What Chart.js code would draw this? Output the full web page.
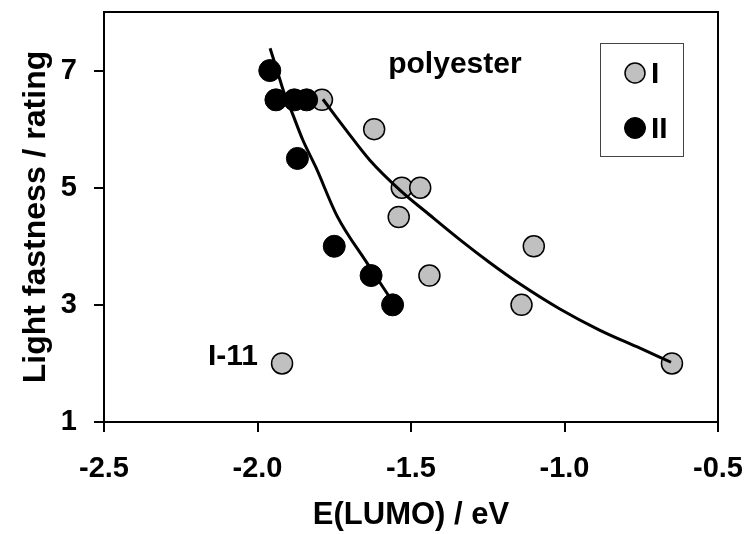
<!DOCTYPE html>
<html>
<head>
<meta charset="utf-8">
<script src="https://cdn.jsdelivr.net/npm/chart.js@4.4.0/dist/chart.umd.min.js"></script>
<style>
  html, body { margin: 0; padding: 0; background: #fff; }
  canvas { display: block; }
</style>
</head>
<body>
<canvas id="lf_chart" width="747" height="534"></canvas>
<script>
// series I (grey dots)
const x_I = [-1.79, -1.62, -1.53, -1.47, -1.54, -1.10, -1.44, -1.14, -0.65, -1.92];
const y_I = [6.5, 6.0, 5.0, 5.0, 4.5, 4.0, 3.5, 3.0, 2.0, 2.0];

// series II (black dots)
const x_II = [-1.96, -1.94, -1.88, -1.84, -1.87, -1.75, -1.63, -1.56];
const y_II = [7.0, 6.5, 6.5, 6.5, 5.5, 4.0, 3.5, 3.0];

// fitted curves
const fit_I_x = [-1.787, -1.715, -1.634, -1.536, -1.438, -1.340, -1.243, -1.146, -1.015, -0.886, -0.754, -0.653];
const fit_I_y = [6.51, 6.01, 5.47, 4.96, 4.53, 4.11, 3.72, 3.36, 2.93, 2.57, 2.26, 2.02];
const fit_II_x = [-1.959, -1.936, -1.914, -1.888, -1.852, -1.810, -1.741, -1.644, -1.563];
const fit_II_y = [7.38, 7.00, 6.63, 6.29, 5.81, 5.35, 4.52, 3.72, 3.08];

// axis ticks
const x_ticks = [-2.5, -2.0, -1.5, -1.0, -0.5];
const y_ticks = [1, 3, 5, 7];

// text labels in the plot
const note_texts = ["polyester", "I-11"];
const note_x = [-1.357, -2.08];
const note_y = [6.96, 1.98];

const legend_names = ["I", "II"];

const FONT = "'Liberation Sans', Arial, sans-serif";
const GREY = "#c0c0c0";

function toPoints(xs, ys) {
    return xs.map((x, i) => ({ x: x, y: ys[i] }));
}

// box round the plot + the notes + the legend
const framePlugin = {
    id: "frame",
    afterDraw(chart) {
        const ctx = chart.ctx;
        const a = chart.chartArea;
        const sx = chart.scales.x, sy = chart.scales.y;
        ctx.save();
        ctx.strokeStyle = "#000";
        ctx.lineWidth = 2;
        ctx.beginPath();
        ctx.moveTo(a.left, a.top);
        ctx.lineTo(a.right, a.top);
        ctx.lineTo(a.right, a.bottom);
        ctx.stroke();

        ctx.fillStyle = "#000";
        ctx.font = "bold 30px " + FONT;
        ctx.textAlign = "center";
        ctx.textBaseline = "alphabetic";
        note_texts.forEach((t, i) => {
            ctx.fillText(t, sx.getPixelForValue(note_x[i]), sy.getPixelForValue(note_y[i]));
        });

        // legend
        const bx = a.right - 118, by = a.top + 31, bw = 83, bh = 113;
        ctx.lineWidth = 1;
        ctx.strokeStyle = "#444";
        ctx.strokeRect(bx + 0.5, by + 0.5, bw, bh);
        const styles = [[GREY, 1.5, 10], ["#000", 1, 10.5]];
        ctx.textAlign = "left";
        ctx.textBaseline = "middle";
        legend_names.forEach((name, i) => {
            const cy = by + 30 + i * 55;
            ctx.beginPath();
            ctx.arc(bx + 35, cy, styles[i][2], 0, Math.PI * 2);
            ctx.fillStyle = styles[i][0];
            ctx.fill();
            ctx.lineWidth = styles[i][1];
            ctx.strokeStyle = "#000";
            ctx.stroke();
            ctx.fillStyle = "#000";
            ctx.fillText(name, bx + 51, cy + 2);
        });
        ctx.restore();
    }
};

new Chart("lf_chart", {
    type: "scatter",
    data: {
        datasets: [
            {   // fit I
                data: toPoints(fit_I_x, fit_I_y),
                showLine: true,
                borderColor: "#000",
                borderWidth: 3,
                pointRadius: 0,
                cubicInterpolationMode: "monotone",
                order: 0
            },
            {   // fit II
                data: toPoints(fit_II_x, fit_II_y),
                showLine: true,
                borderColor: "#000",
                borderWidth: 3,
                pointRadius: 0,
                cubicInterpolationMode: "monotone",
                order: 0
            },
            {
                label: "II",
                data: toPoints(x_II, y_II),
                backgroundColor: "#000",
                borderColor: "#000",
                borderWidth: 1,
                pointRadius: 11,
                order: 1
            },
            {
                label: "I",
                data: toPoints(x_I, y_I),
                backgroundColor: GREY,
                borderColor: "#000",
                borderWidth: 1.5,
                pointRadius: 10.5,
                order: 2
            }
        ]
    },
    options: {
        responsive: false,
        animation: false,
        layout: { padding: { top: 12, right: 29, left: 14, bottom: 0 } },
        plugins: {
            legend: { display: false },
            tooltip: { enabled: false }
        },
        scales: {
            x: {
                type: "linear",
                min: -2.5,
                max: -0.5,
                afterBuildTicks: (scale) => { scale.ticks = x_ticks.map(v => ({ value: v })); },
                afterFit: (scale) => {
                    scale.height = 112;
                    scale.paddingLeft = 0;
                    scale.paddingRight = 0;
                },
                ticks: {
                    color: "#000",
                    padding: 20,
                    font: { family: FONT, size: 29, weight: "bold" },
                    callback: (v) => Number(v).toFixed(1)
                },
                grid: { display: true, drawOnChartArea: false, drawTicks: true, tickLength: 10, color: "#000", lineWidth: 2 },
                border: { display: true, color: "#000", width: 2 },
                title: {
                    display: true,
                    text: "E(LUMO) / eV",
                    color: "#000",
                    padding: { top: 4, bottom: 0 },
                    font: { family: FONT, size: 31, weight: "bold" }
                }
            },
            y: {
                type: "linear",
                min: 1,
                max: 8,
                afterBuildTicks: (scale) => { scale.ticks = y_ticks.map(v => ({ value: v })); },
                afterFit: (scale) => {
                    scale.width = 90;
                    scale.paddingTop = 0;
                    scale.paddingBottom = 0;
                },
                ticks: {
                    color: "#000",
                    padding: 17,
                    font: { family: FONT, size: 29, weight: "bold" }
                },
                grid: { display: true, drawOnChartArea: false, drawTicks: true, tickLength: 10, color: "#000", lineWidth: 2 },
                border: { display: true, color: "#000", width: 2 },
                title: {
                    display: true,
                    text: "Light fastness / rating",
                    color: "#000",
                    padding: { top: 3, bottom: 6 },
                    font: { family: FONT, size: 32, weight: "bold" }
                }
            }
        }
    },
    plugins: [framePlugin]
});
</script>
</body>
</html>
